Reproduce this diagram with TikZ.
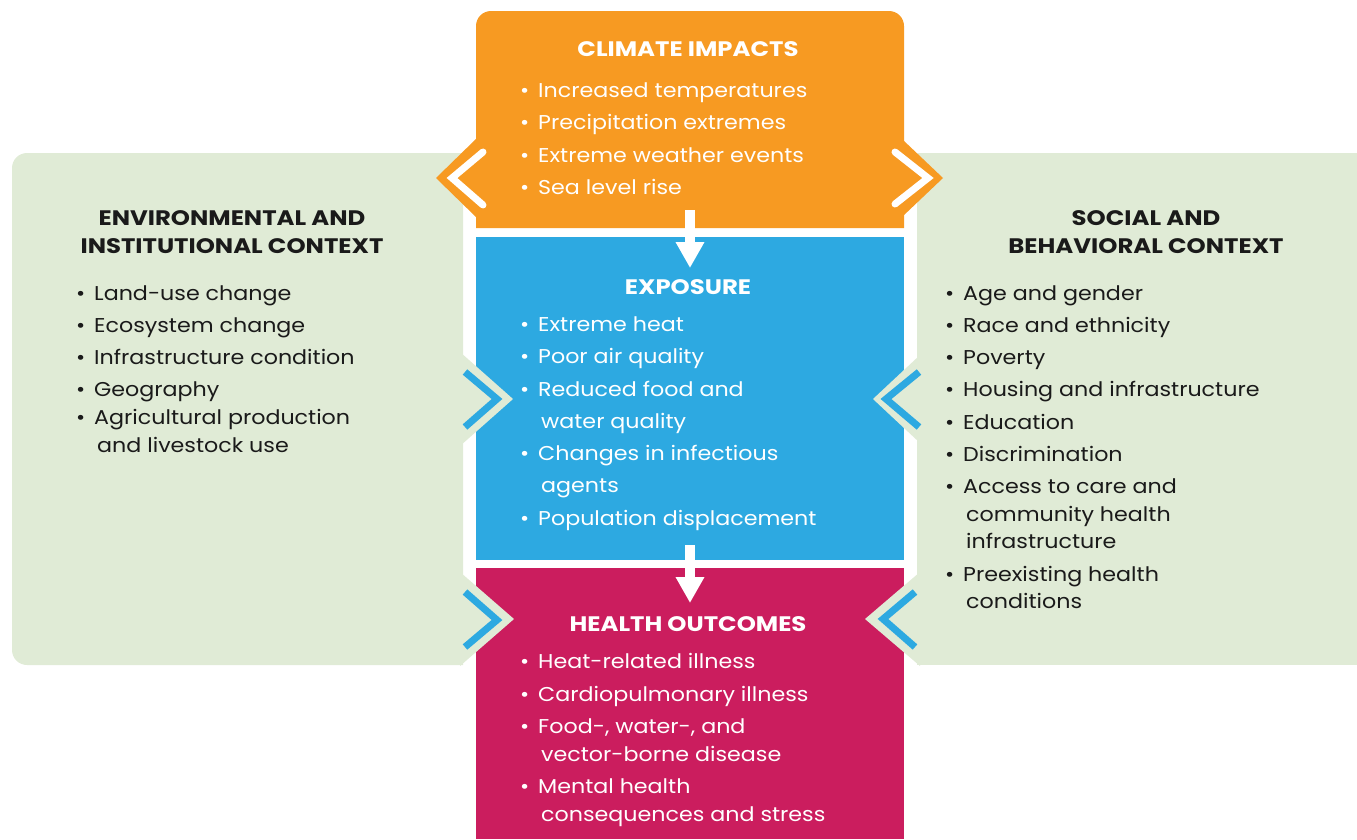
\documentclass[tikz,border=0pt]{standalone}
\usepackage{fontspec}
\setmainfont{Poppins}[FakeStretch=1.11, BoldFeatures={FakeStretch=1.16}]
\usetikzlibrary{arrows.meta}

\definecolor{climateorange}{HTML}{F79A22}
\definecolor{exposureblue}{HTML}{2DA9E1}
\definecolor{healthred}{HTML}{CB1D5E}
\definecolor{contextgreen}{HTML}{E0EBD6}
\definecolor{contexttext}{HTML}{1A1A1A}

\tikzset{
  boxhead/.style={font=\fontsize{21}{26}\selectfont\bfseries, anchor=base, inner sep=0pt},
  ctxhead/.style={font=\fontsize{21}{28}\selectfont\bfseries, align=center, inner sep=0pt, text=contexttext},
  item/.style={font=\fontsize{20}{26}\selectfont, anchor=base west, inner sep=0pt},
  chevstroke/.style={line width=7, line join=miter},
  flowarrow/.style={white, line width=10, -{Triangle[width=27pt,length=26pt]}},
}

\begin{document}
\begin{tikzpicture}[x=1pt, y=-1pt]
  \useasboundingbox (0,0) rectangle (1357,839);

  % context panels
  \fill[contextgreen, rounded corners=15] (463,153) -- (12,153) -- (12,665) -- (463,665);
  \fill[contextgreen] (917,153) rectangle (1357,665);

  % central boxes
  \fill[climateorange, rounded corners=15] (476,228) -- (476,11) -- (904,11) -- (904,228);
  \fill[exposureblue] (476,237) rectangle (904,560);
  \fill[healthred] (476,568) rectangle (904,839);

  % chevrons
  \fill[climateorange] (477,138) -- (436,178) -- (477,218) -- cycle;
  \fill[climateorange] (903,140) -- (943,178) -- (903,216) -- cycle;
  \draw[chevstroke, white, line cap=round] (483,152) -- (452,178) -- (483,205);
  \draw[chevstroke, white, line cap=round] (895,152) -- (928,178) -- (895,204);

  \fill[contextgreen] (460,352) -- (513,399) -- (460,446) -- cycle;
  \fill[contextgreen] (460,572) -- (514,619) -- (460,666) -- cycle;
  \fill[contextgreen] (920,355) -- (873,399) -- (920,443) -- cycle;
  \fill[contextgreen] (920,572) -- (865,619) -- (920,666) -- cycle;
  \draw[chevstroke, exposureblue] (465,372) -- (497,399) -- (465,427);
  \draw[chevstroke, exposureblue] (465,592) -- (497,620) -- (465,647);
  \draw[chevstroke, exposureblue] (919,372) -- (886,399) -- (919,427);
  \draw[chevstroke, exposureblue] (915,592) -- (883,619) -- (915,647);

  % arrows between boxes
  \coordinate (climate-out) at (690,210);
  \coordinate (exposure-in) at (690,268);
  \coordinate (exposure-out) at (690,545);
  \coordinate (health-in) at (690,603);
  \draw[flowarrow] (climate-out) -- (exposure-in);
  \draw[flowarrow] (exposure-out) -- (health-in);

  % climate impacts
  \node[boxhead, white] (climate) at (688,56) {CLIMATE IMPACTS};
  \foreach \y/\t [count=\i] in {97/Increased temperatures, 129/Precipitation extremes,
      162/Extreme weather events, 194/Sea level rise}
    \node[item, white] (climate\i) at (538,\y) {\llap{•\hspace{0.45em}}\t};

  % exposure
  \node[boxhead, white] (exposure) at (688,294) {EXPOSURE};
  \foreach \y/\t [count=\i] in {331/Extreme heat, 363/Poor air quality,
      396/Reduced food and, 460/Changes in infectious, 525/Population displacement}
    \node[item, white] (exposure\i) at (538,\y) {\llap{•\hspace{0.45em}}\t};
  \node[item, white] (exposure3b) at (541,428) {water quality};
  \node[item, white] (exposure4b) at (541,492) {agents};

  % health outcomes
  \node[boxhead, white] (health) at (688,631) {HEALTH OUTCOMES};
  \foreach \y/\t [count=\i] in {668/Heat-related illness, 701/Cardiopulmonary illness,
      733/{Food-, water-, and}, 793/Mental health}
    \node[item, white] (health\i) at (538,\y) {\llap{•\hspace{0.45em}}\t};
  \node[item, white] (health3b) at (541,761) {vector-borne disease};
  \node[item, white] (health4b) at (541,821) {consequences and stress};

  % environmental and institutional context
  \node[ctxhead] (envhead) at (232,232) {ENVIRONMENTAL AND\\INSTITUTIONAL CONTEXT};
  \foreach \y/\t [count=\i] in {300/Land-use change, 332/Ecosystem change,
      364/Infrastructure condition, 396/Geography, 424/Agricultural production}
    \node[item, text=contexttext] (env\i) at (94,\y) {\llap{•\hspace{0.45em}}\t};
  \node[item, text=contexttext] (env5b) at (97,452) {and livestock use};

  % social and behavioral context
  \node[ctxhead] (sochead) at (1146,232) {SOCIAL AND\\BEHAVIORAL CONTEXT};
  \foreach \y/\t [count=\i] in {300/Age and gender, 332/Race and ethnicity, 364/Poverty,
      396/Housing and infrastructure, 429/Education, 461/Discrimination,
      493/Access to care and, 581/Preexisting health}
    \node[item, text=contexttext] (soc\i) at (963,\y) {\llap{•\hspace{0.45em}}\t};
  \node[item, text=contexttext] (soc7b) at (966,521) {community health};
  \node[item, text=contexttext] (soc7c) at (966,548) {infrastructure};
  \node[item, text=contexttext] (soc8b) at (966,608) {conditions};
\end{tikzpicture}
\end{document}
